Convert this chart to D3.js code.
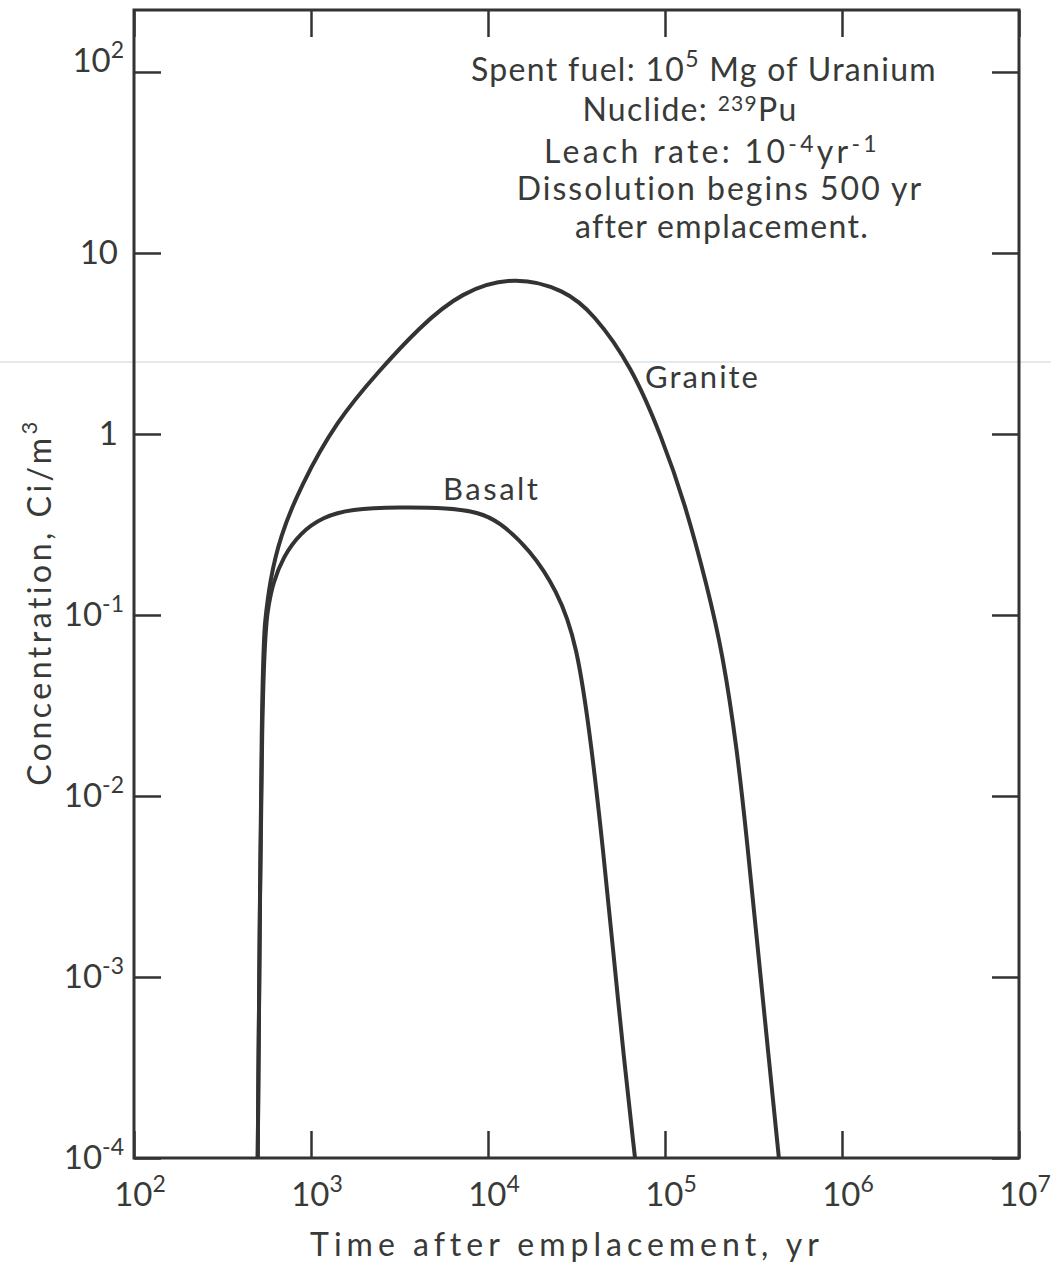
<!DOCTYPE html>
<html lang="en">
<head>
  <meta charset="utf-8">
  <title>239Pu concentration</title>
  <script src="https://d3js.org/d3.v7.min.js"></script>
  <style>
    body { margin: 0; background: #fff; }
    svg text { font-family: Lato, "DejaVu Sans", sans-serif; fill: #383a38; }
  </style>
</head>
<body>
<div class="chart"></div>
<script>
// time after emplacement (yr) and concentration (Ci/m3)
var graniteT = [500, 528, 550, 587, 668, 867, 1400, 2420, 4070, 7030, 14200, 27200, 39200, 64900, 95700, 129700, 173400, 211800, 255900, 290400, 335000, 386800, 440000];
var graniteC = [1e-4, 0.0564, 0.094, 0.156, 0.27, 0.509, 1.19, 2.23, 3.86, 6.1, 7.5, 6.25, 4.67, 2.36, 0.966, 0.414, 0.143, 0.0614, 0.0179, 0.00571, 0.00141, 0.000347, 1e-4];
var basaltT = [500, 528, 571, 610, 695, 867, 1170, 1660, 3180, 6000, 8800, 11500, 17300, 24500, 31800, 38700, 44700, 50900, 58700, 67700];
var basaltC = [1e-4, 0.0564, 0.111, 0.150, 0.209, 0.284, 0.348, 0.385, 0.395, 0.39, 0.37, 0.33, 0.229, 0.137, 0.071, 0.018, 0.00504, 0.00141, 0.000347, 1e-4];

var xTicks = [1e2, 1e3, 1e4, 1e5, 1e6, 1e7];
var xExps = ["2", "3", "4", "5", "6", "7"];
var yTicks = [1e2, 1e1, 1e0, 1e-1, 1e-2, 1e-3, 1e-4];
var yExps = ["2", "", "", "-1", "-2", "-3", "-4"];
var yBase = ["10", "10", "1", "10", "10", "10", "10"];

var W = 1051, H = 1269;
var m = {left: 134, right: 32, top: 10, bottom: 111};
var w = W - m.left - m.right,
    h = H - m.top - m.bottom;

var svg = d3.select(".chart").append("svg")
  .attr("width", W)
  .attr("height", H);

// faint scan line across the page
svg.append("line")
  .attr("x1", 0).attr("x2", W)
  .attr("y1", 362).attr("y2", 362)
  .style("stroke", "#c9d3dc")
  .style("stroke-width", 1);

var g = svg.append("g")
  .attr("transform", "translate(" + m.left + "," + m.top + ")");

var x = d3.scaleLog().domain([1e2, 1e7]).range([0, w]);
// top of the frame sits a little above 10^2
var y = d3.scaleLog().domain([1e-4, 220]).range([h, 0]);

var tick = 27;
function styleAxis(sel) {
  sel.select(".domain").remove();
  sel.selectAll(".tick line").style("stroke", "#333").style("stroke-width", 2.5);
}
g.append("g").attr("transform", "translate(0," + h + ")")
  .call(d3.axisBottom(x).tickValues(xTicks).tickSize(-tick).tickFormat(""))
  .call(styleAxis);
g.append("g")
  .call(d3.axisTop(x).tickValues(xTicks).tickSize(-tick).tickFormat(""))
  .call(styleAxis);
g.append("g")
  .call(d3.axisLeft(y).tickValues(yTicks).tickSize(-tick).tickFormat(""))
  .call(styleAxis);
g.append("g").attr("transform", "translate(" + w + ",0)")
  .call(d3.axisRight(y).tickValues(yTicks).tickSize(-tick).tickFormat(""))
  .call(styleAxis);

// frame
g.append("rect")
  .attr("width", w).attr("height", h)
  .style("fill", "none")
  .style("stroke", "#333")
  .style("stroke-width", 3);

// x tick labels
var xl = g.selectAll(".xlab").data(xTicks).enter().append("text")
  .attr("class", "xlab")
  .attr("x", function(d) { return x(d) + 6; })
  .attr("y", h + 48)
  .attr("text-anchor", "middle")
  .style("font-size", "33px");
xl.append("tspan").text("10");
xl.append("tspan").attr("dy", -14).style("font-size", "23px")
  .text(function(d, i) { return xExps[i]; });

// y tick labels
var yl = g.selectAll(".ylab").data(yTicks).enter().append("text")
  .attr("class", "ylab")
  .attr("x", function(d, i) { return yExps[i] ? -10 : -16; })
  .attr("y", function(d, i) { return y(d) + (i === 0 ? 0 : 11); })
  .attr("text-anchor", "end")
  .style("font-size", "33px");
yl.append("tspan").text(function(d, i) { return yBase[i]; });
yl.append("tspan").attr("dy", -14).style("font-size", "23px")
  .text(function(d, i) { return yExps[i]; });

// curves
var line = d3.line()
  .x(function(d) { return x(d[0]); })
  .y(function(d) { return y(d[1]); })
  .curve(d3.curveBasis);

var series = [
  {name: "Granite", pts: d3.zip(graniteT, graniteC)},
  {name: "Basalt", pts: d3.zip(basaltT, basaltC)}
];
g.selectAll(".curve").data(series).enter().append("path")
  .attr("class", "curve")
  .attr("d", function(d) { return line(d.pts); })
  .style("fill", "none")
  .style("stroke", "#333")
  .style("stroke-width", 4);

// curve labels
g.append("text").attr("x", x(77100)).attr("y", y(1.8))
  .style("font-size", "31px").style("letter-spacing", "2px").text("Granite");
g.append("text").attr("x", x(5570)).attr("y", y(0.43))
  .style("font-size", "31px").style("letter-spacing", "2.5px").text("Basalt");

// note block
var note = g.append("g").style("font-size", "32px").style("letter-spacing", "1.3px");
var cx = 704 - m.left;
var t1 = note.append("text").attr("x", cx).attr("y", 81 - m.top).attr("text-anchor", "middle");
t1.append("tspan").text("Spent fuel: 10");
t1.append("tspan").attr("dy", -14).style("font-size", "23px").text("5");
t1.append("tspan").attr("dy", 14).text(" Mg of Uranium");

var t2 = note.append("text").attr("x", cx - 14).attr("y", 121 - m.top).attr("text-anchor", "middle");
t2.append("tspan").text("Nuclide: ");
t2.append("tspan").attr("dy", -10).style("font-size", "21px").text("239");
t2.append("tspan").attr("dy", 10).text("Pu");

var t3 = note.append("text").attr("x", cx + 8).attr("y", 163 - m.top).attr("text-anchor", "middle")
  .style("letter-spacing", "3.3px");
t3.append("tspan").text("Leach rate: 10");
t3.append("tspan").attr("dy", -11).style("font-size", "23px").text("-4");
t3.append("tspan").attr("dy", 11).text("yr");
t3.append("tspan").attr("dy", -11).style("font-size", "23px").text("-1");

note.append("text").attr("x", cx + 16).attr("y", 200 - m.top).attr("text-anchor", "middle")
  .style("letter-spacing", "2px")
  .text("Dissolution begins 500 yr");
note.append("text").attr("x", cx + 18).attr("y", 238 - m.top).attr("text-anchor", "middle")
  .text("after emplacement.");

// axis titles
svg.append("text")
  .attr("x", 567).attr("y", 1256)
  .attr("text-anchor", "middle")
  .style("font-size", "32px")
  .style("letter-spacing", "5px")
  .text("Time after emplacement, yr");

var yt = svg.append("text")
  .attr("transform", "translate(51,602) rotate(-90)")
  .attr("text-anchor", "middle")
  .style("font-size", "32px")
  .style("letter-spacing", "3.5px");
yt.append("tspan").text("Concentration,  Ci/m");
yt.append("tspan").attr("dy", -14).style("font-size", "22px").text("3");
</script>
</body>
</html>
